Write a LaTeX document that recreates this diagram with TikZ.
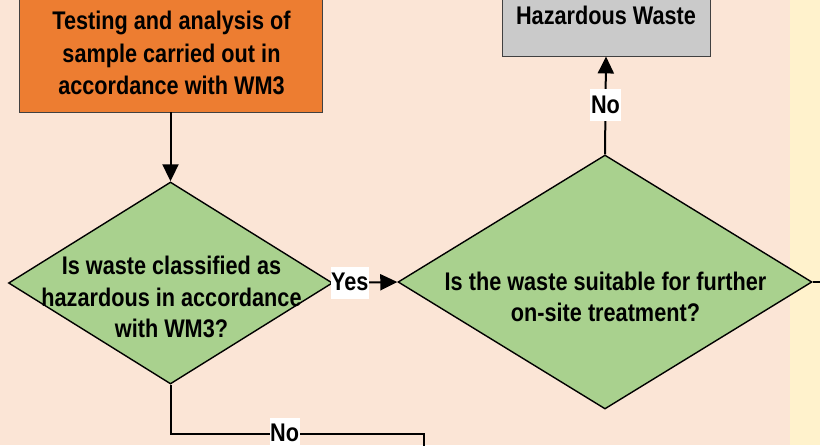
\documentclass[tikz,border=0pt]{standalone}
\usepackage{fontspec}
\setmainfont{Liberation Sans}[FakeStretch=0.85]
\usetikzlibrary{shapes.geometric,arrows.meta}
\definecolor{peach}{HTML}{FBE5D6}
\definecolor{ylw}{HTML}{FFF2CC}
\definecolor{orng}{HTML}{ED7D31}
\definecolor{grn}{HTML}{A9D18E}
\definecolor{gry}{HTML}{CACACA}
\tikzset{
  boxstyle/.style={rectangle, draw=black!75, line width=0.9pt, inner sep=0pt},
  decision/.style={diamond, draw=black, fill=grn, line width=1.4pt, inner sep=0pt, aspect=1},
  txt/.style={align=center, font=\fontsize{25.5}{32}\selectfont\bfseries, inner sep=0pt},
  conn/.style={line width=2pt, draw=black},
  arr/.style={conn, -{Triangle[length=17pt,width=16pt]}},
  lbl/.style={fill=white, inner xsep=0.6pt, inner ysep=6pt, font=\fontsize{25.5}{28}\selectfont\bfseries, text height=18pt, text depth=2pt}
}
\begin{document}
\begin{tikzpicture}[x=1pt,y=-1pt]
\clip (0,0) rectangle (820,445);
\fill[peach] (0,0) rectangle (790,445);
\fill[ylw] (790,0) rectangle (820,445);

% orange box
\node[boxstyle, fill=orng, minimum width=303pt, minimum height=172pt] (test) at (170.5,26) {};
\node[txt, font=\fontsize{25.5}{32.5}\selectfont\bfseries] (testtext) at (171.5,53) {Testing and analysis of\\sample carried out in\\accordance with WM3};

% gray box
\node[boxstyle, fill=gry, minimum width=208pt, minimum height=116pt] (haz) at (606,-2) {};
\node[txt] (haztext) at (606,15) {Hazardous Waste};

% decision 1
\node[decision, minimum width=324pt, minimum height=202pt] (d1) at (170.5,283) {};
\node[txt, font=\fontsize{25.5}{31.5}\selectfont\bfseries] (d1text) at (171.5,297) {Is waste classified as\\hazardous in accordance\\with WM3?};

% decision 2
\node[decision, minimum width=414pt, minimum height=254pt] (d2) at (605,282) {};
\node[txt, font=\fontsize{25.5}{31.5}\selectfont\bfseries] (d2text) at (605.5,297) {Is the waste suitable for further\\on-site treatment?};

\coordinate (rightend) at (830,282);
\coordinate (bottomend) at (424,460);

% connectors
\draw[arr] (test.south) -- (d1.north);
\draw[arr] (d1.east) -- node[lbl, pos=0.26] {Yes} (d2.west);
\draw[arr] (d2.north) -- node[lbl] {No} (haz.south);
\draw[conn] (d2.east) -- (rightend);
\draw[conn] (d1.south) -- ++(0,49) -| node[lbl, pos=0.225] {No} (bottomend);
\end{tikzpicture}
\end{document}
